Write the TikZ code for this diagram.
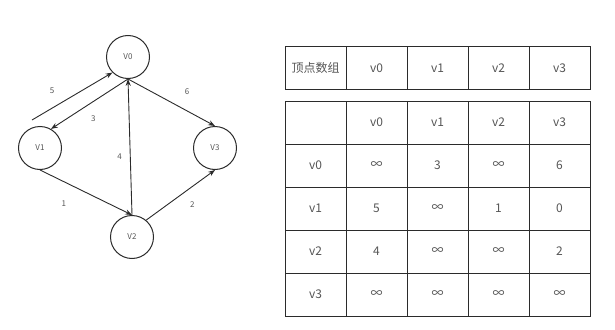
\documentclass[tikz,border=0pt]{standalone}
\usepackage{fontspec}
\setmainfont{Noto Sans CJK SC}
\usepackage{tikz}
\usetikzlibrary{arrows.meta,positioning}
\definecolor{trait}{HTML}{2B2B2B}
\definecolor{texte}{HTML}{555555}
\tikzset{
  sommet/.style={draw=trait,circle,minimum size=43pt,inner sep=0pt,
                 font=\fontsize{8}{9}\selectfont,text=texte,line width=1pt},
  fleche/.style={-{Stealth[length=2.4mm]},line width=0.9pt,color=trait},
  poids/.style={font=\fontsize{8}{9}\selectfont,text=texte,inner sep=1pt},
  cellule/.style={draw=trait,line width=1pt,minimum width=61pt,minimum height=43pt,
                  inner sep=0pt,outer sep=0pt,text=texte,font=\fontsize{12}{14}\selectfont},
}
\begin{document}
\begin{tikzpicture}[x=1pt,y=1pt]
  \useasboundingbox (0,0) rectangle (615,-329);
  % graphe
  \node[sommet] (v0) at (128,-57) {V0};
  \node[sommet] (v1) at (40,-148) {V1};
  \node[sommet] (v3) at (215,-148) {V3};
  \node[sommet] (v2) at (132,-237) {V2};
  \coordinate (debut) at (32,-120);
  \draw[fleche] (debut) -- (v0.225) node[poids,pos=0.25,above=13pt] {5};
  \draw[fleche] (v0.south) -- (v1.60) node[poids,pos=0.45,below=13pt] {3};
  \draw[fleche] (v0.south) -- (v3.north) node[poids,pos=0.68,above=15pt] {6};
  \draw[fleche] (v2.north) -- (v0.south) node[poids,pos=0.43,left=7pt] {4};
  \draw[fleche] (v1.south) -- (v2.north) node[poids,pos=0.26,below=18pt] {1};
  \draw[fleche] (v2.50) -- (v3.south) node[poids,pos=0.67,below=14pt] {2};
  % tableau des sommets
  \foreach \nom [count=\j from 0] in {顶点数组,v0,v1,v2,v3}
    \node[cellule,minimum height=42pt] (s-\j) at (315.5+61*\j,-68) {\nom};
  % matrice d'adjacence
  \foreach \ligne [count=\i from 0] in {{,v0,v1,v2,v3},{v0,∞,3,∞,6},{v1,5,∞,1,0},{v2,4,∞,∞,2},{v3,∞,∞,∞,∞}}
    \foreach \val [count=\j from 0] in \ligne
      \node[cellule] (m-\i-\j) at (315.5+61*\j,-122.5-43*\i) {\val};
\end{tikzpicture}
\end{document}
